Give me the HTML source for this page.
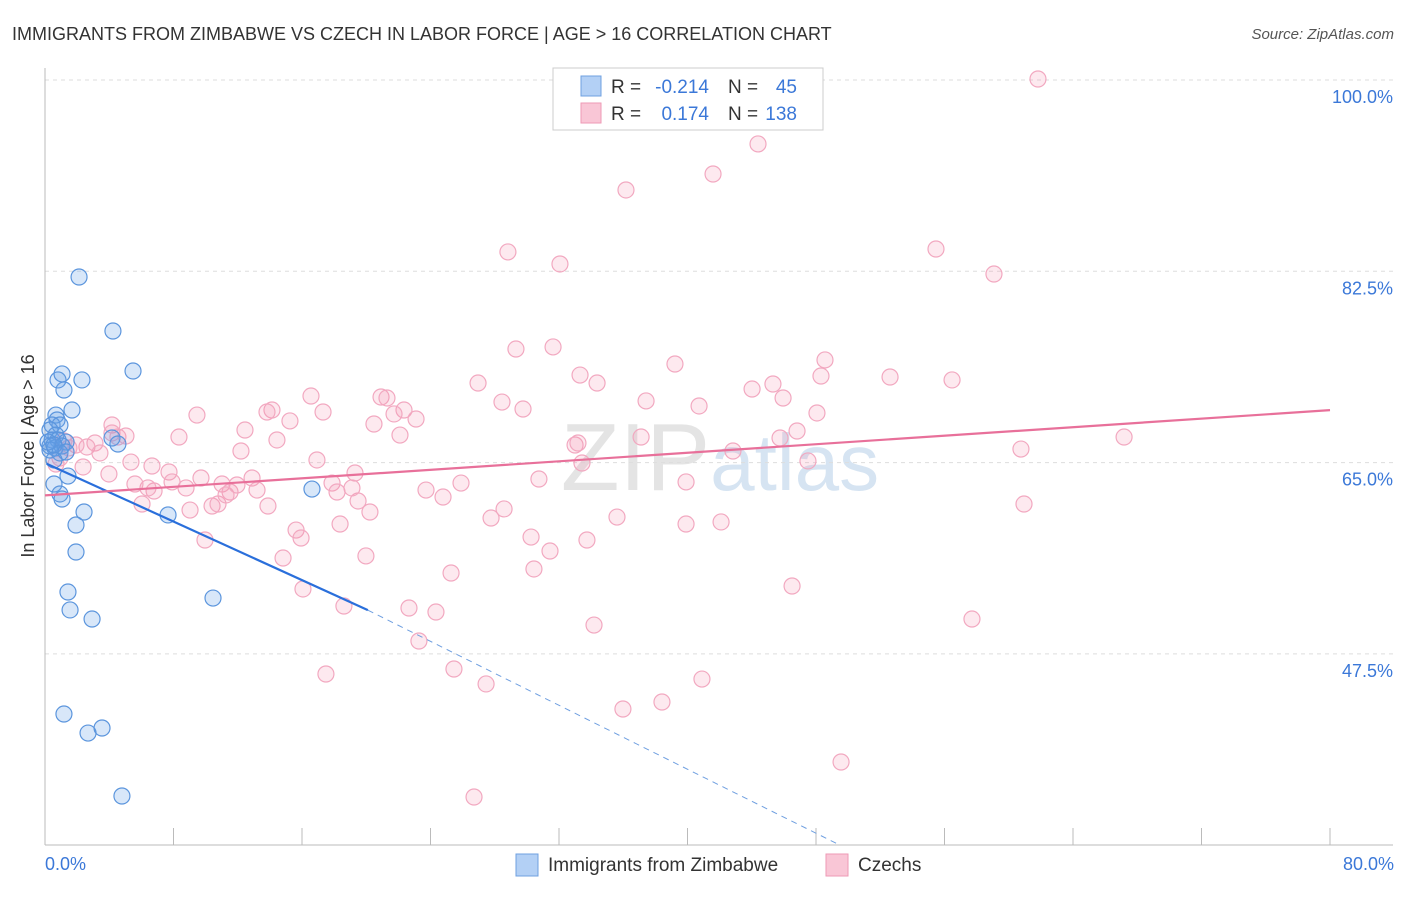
<!DOCTYPE html>
<html><head><meta charset="utf-8"><style>
body{margin:0;background:#fff;font-family:"Liberation Sans",sans-serif}
svg text{font-family:"Liberation Sans",sans-serif}
</style></head><body>
<svg id="c" width="1406" height="892">
<text x="12" y="40" font-size="18" fill="#333">IMMIGRANTS FROM ZIMBABWE VS CZECH IN LABOR FORCE | AGE &gt; 16 CORRELATION CHART</text>
<text x="1394" y="39" font-size="15" font-style="italic" fill="#555" text-anchor="end">Source: ZipAtlas.com</text>
<text x="720" y="490" font-size="96" fill="#e4e4e4" text-anchor="middle" font-family="Liberation Serif">ZIP<tspan fill="#d6e4f2" font-family="Liberation Sans" font-size="80">atlas</tspan></text>
<g id="grid"></g><g id="pts"></g><g id="lines"></g>
<text transform="translate(34,456) rotate(-90)" font-size="18" fill="#333" text-anchor="middle">In Labor Force | Age &gt; 16</text>
<text x="45" y="870" font-size="18" fill="#3b78d8">0.0%</text>
<text x="1394" y="870" font-size="18" fill="#3b78d8" text-anchor="end">80.0%</text>
<g>
<rect x="553" y="68" width="270" height="62" fill="#fff" stroke="#ccc"/>
<rect x="581" y="76" width="20" height="20" fill="#b3d0f5" stroke="#6fa0e0"/>
<rect x="581" y="103" width="20" height="20" fill="#f9c6d6" stroke="#ee9ab5"/>
<text x="611" y="93" font-size="19" fill="#333">R =</text>
<text x="709" y="93" font-size="19" fill="#3b78d8" text-anchor="end">-0.214</text>
<text x="728" y="93" font-size="19" fill="#333">N =</text>
<text x="797" y="93" font-size="19" fill="#3b78d8" text-anchor="end">45</text>
<text x="611" y="120" font-size="19" fill="#333">R =</text>
<text x="709" y="120" font-size="19" fill="#3b78d8" text-anchor="end">0.174</text>
<text x="728" y="120" font-size="19" fill="#333">N =</text>
<text x="797" y="120" font-size="19" fill="#3b78d8" text-anchor="end">138</text>
</g>
<g>
<rect x="516" y="854" width="22" height="22" fill="#b3d0f5" stroke="#6fa0e0"/>
<text x="548" y="871" font-size="19" fill="#333">Immigrants from Zimbabwe</text>
<rect x="826" y="854" width="22" height="22" fill="#f9c6d6" stroke="#ee9ab5"/>
<text x="858" y="871" font-size="19" fill="#333">Czechs</text>
</g>
</svg>
<script>
const yTicks=[100,82.5,65,47.5];
const xTickVals=[0,8,16,24,32,40,48,56,64,72,80];
const bluePx=[[79,277],[113,331],[133,371],[82,380],[58,380],[62,374],[64,390],[72,410],[56,415],[57,420],[52,425],[60,425],[50,430],[56,435],[52,440],[58,440],[66,442],[50,446],[55,448],[62,446],[112,438],[118,444],[50,450],[60,453],[54,460],[68,476],[54,484],[60,494],[62,499],[84,512],[168,515],[312,489],[76,525],[76,552],[68,592],[70,610],[92,619],[213,598],[64,714],[88,733],[102,728],[122,796],[48,442],[54,445],[66,452]];
const pinkPx=[[1038,79],[758,144],[713,174],[626,190],[508,252],[560,264],[936,249],[994,274],[516,349],[553,347],[825,360],[675,364],[821,376],[890,377],[952,380],[478,383],[580,375],[597,383],[752,389],[773,384],[783,398],[311,396],[381,397],[387,398],[502,402],[646,401],[699,406],[523,409],[272,410],[267,412],[323,412],[404,410],[394,414],[416,419],[197,415],[290,421],[374,424],[817,413],[1124,437],[1021,449],[400,435],[245,430],[179,437],[277,440],[112,425],[112,433],[118,437],[126,436],[95,443],[87,447],[100,453],[76,445],[69,448],[64,441],[60,458],[56,464],[83,467],[109,474],[131,462],[152,466],[169,472],[201,478],[186,488],[172,482],[154,491],[148,488],[135,484],[142,504],[190,510],[212,506],[218,504],[222,484],[230,492],[226,495],[237,485],[252,478],[257,490],[268,506],[241,451],[317,460],[332,483],[337,492],[355,473],[358,501],[352,488],[370,512],[340,524],[296,530],[301,538],[283,558],[205,540],[303,589],[344,606],[366,556],[409,608],[436,612],[419,641],[426,490],[443,497],[461,483],[451,573],[491,518],[504,509],[539,479],[531,537],[534,569],[550,551],[587,540],[617,517],[582,463],[575,445],[641,437],[686,482],[686,524],[721,522],[733,451],[780,438],[797,431],[808,461],[594,625],[623,709],[662,702],[702,679],[792,586],[841,762],[972,619],[1024,504],[326,674],[454,669],[486,684],[474,797],[578,443]];
const blueX=bluePx.map(p=>+((p[0]-45)/1285*80).toFixed(2));
const blueY=bluePx.map(p=>+(100-(p[1]-80)/191.3*17.5).toFixed(2));
const pinkX=pinkPx.map(p=>+((p[0]-45)/1285*80).toFixed(2));
const pinkY=pinkPx.map(p=>+(100-(p[1]-80)/191.3*17.5).toFixed(2));
const blueTrend=[[0.1,64.9],[20.1,51.5]];
const blueTrendDash=[[20.1,51.5],[49.5,30]];
const pinkTrend=[[0,62.0],[80,69.8]];
const NS="http://www.w3.org/2000/svg";
const sx=v=>45+v/80*1285, sy=v=>80+(100-v)/17.5*191.3;
function mk(tag,attrs,parent){const e=document.createElementNS(NS,tag);for(const k in attrs)e.setAttribute(k,attrs[k]);parent.appendChild(e);return e;}
const grid=document.getElementById('grid');
yTicks.forEach(t=>{
 const l=mk('line',{x1:45,x2:1393,y1:sy(t),y2:sy(t),stroke:'#ddd','stroke-dasharray':'4,4'},grid);
 
 
 const tx=mk('text',{x:1393,y:sy(t)+23,'font-size':18,fill:'#3b78d8','text-anchor':'end'},grid);
 tx.textContent=t.toFixed(1)+'%';
 
 
});
const ax=mk('line',{x1:45,x2:1393,y1:845,y2:845,stroke:'#bbb'},grid);


const ay=mk('line',{x1:45,x2:45,y1:68,y2:845,stroke:'#bbb'},grid);


xTickVals.forEach(t=>{
 const l=mk('line',{x1:sx(t),x2:sx(t),y1:828,y2:845,stroke:'#bbb'},grid);
 
 
});
const pts=document.getElementById('pts');
pinkX.forEach((x,i)=>{
 const c=mk('circle',{cx:sx(x),cy:sy(pinkY[i]),r:8,fill:'rgba(244,143,177,0.2)',stroke:'#f2a8c0','stroke-width':1.2},pts);
 
 
});
blueX.forEach((x,i)=>{
 const c=mk('circle',{cx:sx(x),cy:sy(blueY[i]),r:8,fill:'rgba(100,160,230,0.25)',stroke:'#5b95dd','stroke-width':1.2},pts);
 
 
});
const lines=document.getElementById('lines');
let l1=mk('line',{x1:sx(blueTrend[0][0]),y1:sy(blueTrend[0][1]),x2:sx(blueTrend[1][0]),y2:sy(blueTrend[1][1]),stroke:'#2a6fdb','stroke-width':2.2},lines);


let l2=mk('line',{x1:sx(blueTrendDash[0][0]),y1:sy(blueTrendDash[0][1]),x2:sx(blueTrendDash[1][0]),y2:sy(blueTrendDash[1][1]),stroke:'#6f9fe0','stroke-width':1,'stroke-dasharray':'6,5'},lines);


let l3=mk('line',{x1:sx(pinkTrend[0][0]),y1:sy(pinkTrend[0][1]),x2:sx(pinkTrend[1][0]),y2:sy(pinkTrend[1][1]),stroke:'#e8709a','stroke-width':2.2},lines);


</script>
</body></html>
